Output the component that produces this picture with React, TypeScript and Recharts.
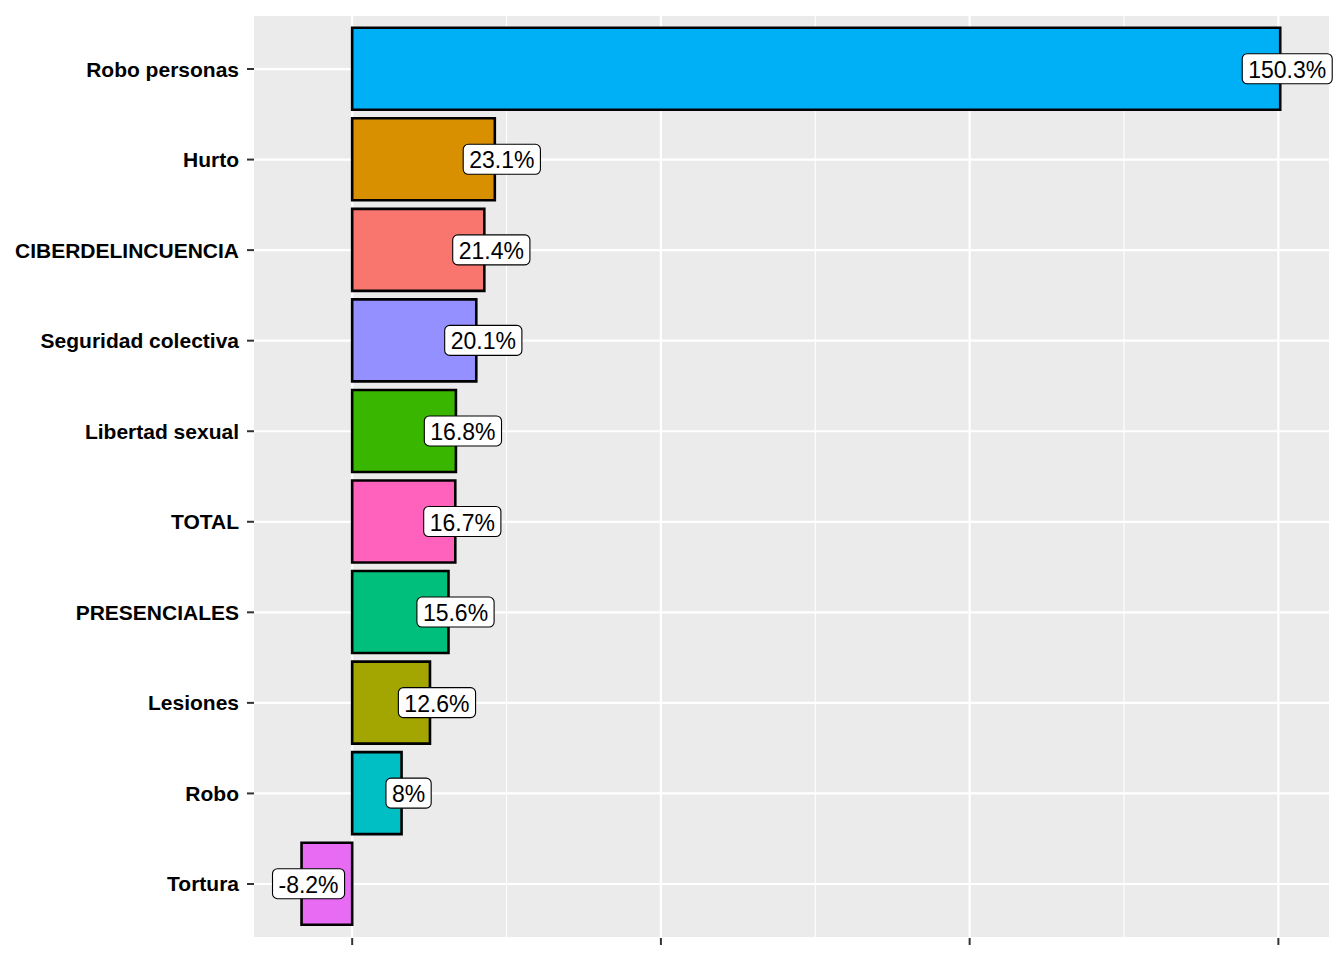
// Variación porcentual por tipo de delito — barras horizontales estilo ggplot
import { BarChart, Bar, XAxis, YAxis, CartesianGrid, Cell, LabelList } from 'recharts'

const categories = [
  'Robo personas',
  'Hurto',
  'CIBERDELINCUENCIA',
  'Seguridad colectiva',
  'Libertad sexual',
  'TOTAL',
  'PRESENCIALES',
  'Lesiones',
  'Robo',
  'Tortura',
]
const values = [150.3, 23.1, 21.4, 20.1, 16.8, 16.7, 15.6, 12.6, 8, -8.2]
const colors = [
  '#00B0F6', '#D89000', '#F8766D', '#9590FF', '#39B600',
  '#FF62BC', '#00BF7D', '#A3A500', '#00BFC4', '#E76BF3',
]
const majorTicks = [0, 50, 100, 150]
const minorTicks = [25, 75, 125]

const data = categories.map((name, i) => ({ name, value: values[i] }))

const FONT = '"Liberation Sans", Arial, Helvetica, sans-serif'

// ancho aproximado de texto (Liberation Sans)
const charW: Record<string, number> = { '.': 0.278, '%': 0.889, '-': 0.333 }
function textWidth(s: string, size: number) {
  let w = 0
  for (const c of s) w += charW[c] ?? 0.556
  return w * size
}

function ValueLabel(props: any) {
  const { x, y, width, height, value } = props
  const txt = `${value}%`
  const fs = 23
  const tw = textWidth(txt, fs)
  const cx = x + width + 7
  const cy = y + height / 2
  const bw = tw + 12
  const bh = 30
  return (
    <g>
      <rect x={cx - bw / 2} y={cy - bh / 2} width={bw} height={bh} rx={5} ry={5}
        fill="#FFFFFF" stroke="#000000" strokeWidth={1.1} />
      <text x={cx} y={cy + 1} textAnchor="middle" dominantBaseline="central"
        fontSize={fs} fontFamily={FONT} fill="#000000">{txt}</text>
    </g>
  )
}

function CatTick(props: any) {
  const { x, y, payload } = props
  return (
    <text x={x} y={y} textAnchor="end" dominantBaseline="central"
      fontSize={21} fontWeight="bold" fontFamily={FONT} fill="#000000">
      {payload.value}
    </text>
  )
}

export default function App() {
  return (
    <div style={{ position: 'absolute', left: 0, top: 0, width: 1344, height: 960, background: '#FFFFFF' }}>
      <BarChart
        width={1344}
        height={960}
        data={data}
        layout="vertical"
        margin={{ top: 15, right: 15, left: 0, bottom: 0 }}
      >
        <CartesianGrid fill="#EBEBEB" stroke="#FFFFFF" strokeWidth={1.1}
          horizontal={false} verticalValues={minorTicks} />
        <CartesianGrid stroke="#FFFFFF" strokeWidth={2.2}
          verticalValues={majorTicks} />
        <XAxis
          type="number"
          domain={[-15.9, 158.2]}
          ticks={majorTicks}
          allowDataOverflow
          axisLine={false}
          tickLine={{ stroke: '#333333', strokeWidth: 2 }}
          tickSize={7}
          tick={() => <g />}
          height={22}
        />
        <YAxis
          type="category"
          dataKey="name"
          width={254}
          axisLine={false}
          tickLine={{ stroke: '#333333', strokeWidth: 2 }}
          tickSize={7}
          tickMargin={8}
          tick={<CatTick />}
          padding={{ top: 8.75, bottom: 8.75 }}
          interval={0}
        />
        <Bar dataKey="value" barSize={82} stroke="#000000" strokeWidth={2.6} isAnimationActive={false}>
          {data.map((d, i) => (
            <Cell key={d.name} fill={colors[i]} />
          ))}
          <LabelList dataKey="value" content={<ValueLabel />} />
        </Bar>
      </BarChart>
    </div>
  )
}
